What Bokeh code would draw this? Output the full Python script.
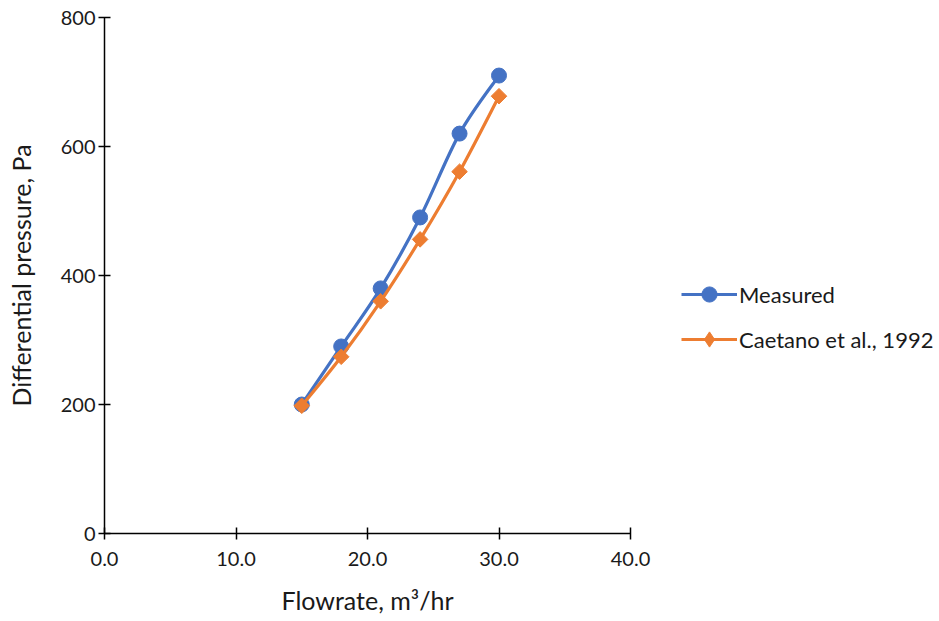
import math
from bokeh.plotting import figure
from bokeh.models import (FixedTicker, PrintfTickFormatter, Legend, LegendItem,
                          ColumnDataSource)
from bokeh.embed import file_html
from bokeh.resources import INLINE

# Flowrate (m3/hr) and differential pressure (Pa)
flowrate = [15, 18, 21, 24, 27, 30]
measured = [200, 290, 380, 490, 620, 710]
caetano = [198, 274, 360, 456, 561, 678]

x_ticks = [0, 10, 20, 30, 40]
y_ticks = [0, 200, 400, 600, 800]

BLUE = "#4472C4"
ORANGE = "#ED7D31"
FONT = "Lato"
TEXT = "#1a1a1a"
NAN = float("nan")


def smooth_segments(xs, ys):
    """Cubic Bezier segments (Catmull-Rom style) through the given points."""
    n = len(xs)
    seg = dict(x0=[], y0=[], x1=[], y1=[], cx0=[], cy0=[], cx1=[], cy1=[])
    for i in range(n - 1):
        ip = max(i - 1, 0)
        inn = min(i + 2, n - 1)
        seg["x0"].append(xs[i]); seg["y0"].append(ys[i])
        seg["x1"].append(xs[i + 1]); seg["y1"].append(ys[i + 1])
        seg["cx0"].append(xs[i] + (xs[i + 1] - xs[ip]) / 6)
        seg["cy0"].append(ys[i] + (ys[i + 1] - ys[ip]) / 6)
        seg["cx1"].append(xs[i + 1] - (xs[inn] - xs[i]) / 6)
        seg["cy1"].append(ys[i + 1] - (ys[inn] - ys[i]) / 6)
    return ColumnDataSource(seg)


p = figure(width=939, height=621, output_backend="svg", toolbar_location=None,
           x_range=(0, 40), y_range=(0, 800),
           frame_width=526, frame_height=516,
           min_border_left=104, min_border_top=17, min_border_bottom=88,
           min_border_right=0)
p.outline_line_color = None
p.grid.visible = False
p.background_fill_color = "white"
p.border_fill_color = "white"

for ax in (p.xaxis[0], p.yaxis[0]):
    ax.axis_line_color = "black"
    ax.axis_line_width = 1.5
    ax.major_tick_line_color = "black"
    ax.major_tick_line_width = 1.5
    ax.major_tick_in = 6
    ax.major_tick_out = 6
    ax.minor_tick_line_color = None
    ax.major_label_text_font = FONT
    ax.major_label_text_font_size = "20px"
    ax.major_label_text_color = TEXT
    ax.axis_label_text_font = FONT
    ax.axis_label_text_font_size = "25px"
    ax.axis_label_text_font_style = "normal"
    ax.axis_label_text_color = TEXT

p.xaxis.ticker = FixedTicker(ticks=x_ticks)
p.yaxis.ticker = FixedTicker(ticks=y_ticks)
p.xaxis.formatter = PrintfTickFormatter(format="%.1f")
p.xaxis.axis_label = "Flowrate, m³/hr"
p.yaxis.axis_label = "Differential pressure, Pa"
p.xaxis.major_label_standoff = 12
p.yaxis.major_label_standoff = 3
p.xaxis.axis_label_standoff = 16
p.yaxis.axis_label_standoff = 22

items = []
for ys, color, marker, size, angle, key_marker, label in [
    (measured, BLUE, "circle", 15, 0.0, "circle", "Measured"),
    (caetano, ORANGE, "square", 11, math.pi / 4, "diamond",
     "Caetano et al., 1992"),
]:
    p.bezier(x0="x0", y0="y0", x1="x1", y1="y1", cx0="cx0", cy0="cy0",
             cx1="cx1", cy1="cy1", source=smooth_segments(flowrate, ys),
             line_color=color, line_width=3.2)
    p.scatter(flowrate, ys, marker=marker, size=size, angle=angle,
              fill_color=color, line_color=color)
    # legend keys: a line swatch plus the series marker
    key_line = p.line(x=[NAN], y=[NAN], line_color=color, line_width=3.2)
    key_mark = p.scatter(x=[NAN], y=[NAN], marker=key_marker,
                         fill_color=color, line_color=color)
    items.append(LegendItem(label=label, renderers=[key_line, key_mark],
                            index=0))

legend = Legend(items=items, location=(51, 175), orientation="vertical",
                label_text_font=FONT, label_text_font_size="22px",
                label_text_color=TEXT, glyph_width=56, glyph_height=38,
                label_height=20, label_standoff=2, spacing=7, padding=0,
                margin=0, border_line_color=None, background_fill_alpha=0)
p.add_layout(legend, "right")

open("out.html", "w").write(file_html(p, INLINE))
